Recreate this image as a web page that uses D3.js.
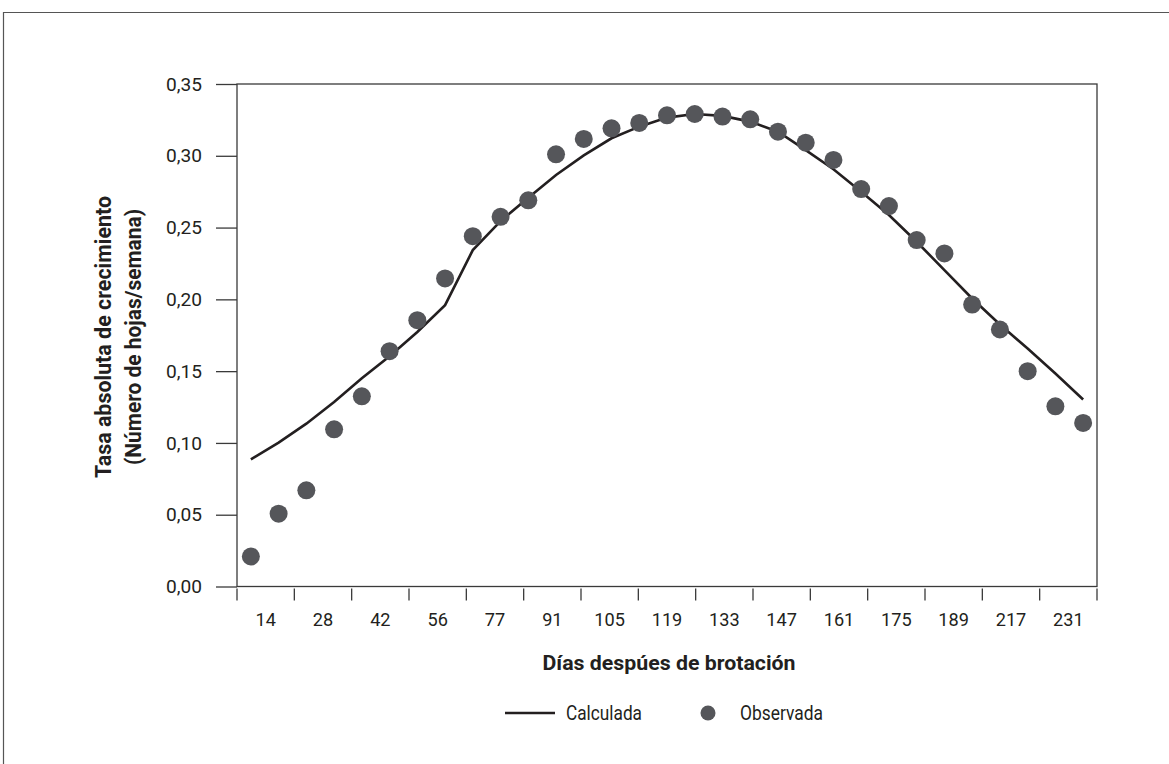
<!DOCTYPE html>
<html>
<head>
<meta charset="utf-8">
<script src="https://cdn.jsdelivr.net/npm/d3@7"></script>
<style>
  html, body { margin: 0; padding: 0; background: #fff; }
  svg { display: block; }
  text { font-family: Roboto, "Liberation Sans", sans-serif; fill: #231f20; }
</style>
</head>
<body>
<svg id="chart" width="1169" height="764"></svg>
<script>
// Data
const tickLabels = ["14","28","42","56","77","91","105","119","133","147","161","175","189","217","231"];
const yTicks = [0, 0.05, 0.10, 0.15, 0.20, 0.25, 0.30, 0.35];
const calculada = [0.0886, 0.1002, 0.1134, 0.1285, 0.1450, 0.1604, 0.1773, 0.1960, 0.2343, 0.2545,
                   0.2708, 0.2866, 0.3003, 0.3122, 0.3203, 0.3266, 0.3291, 0.3278, 0.3238, 0.3168,
                   0.3040, 0.2906, 0.2750, 0.2587, 0.2401, 0.2204, 0.2006, 0.1825, 0.1657, 0.1483, 0.1302];
const observada = [0.0209, 0.0507, 0.0670, 0.1095, 0.1325, 0.1639, 0.1855, 0.2146, 0.2440, 0.2575,
                   0.2690, 0.3010, 0.3117, 0.3191, 0.3229, 0.3282, 0.3291, 0.3273, 0.3254, 0.3168,
                   0.3091, 0.2971, 0.2768, 0.2650, 0.2413, 0.2320, 0.1964, 0.1790, 0.1500, 0.1255, 0.1139];
const legendItems = ["Calculada", "Observada"];

(function () {
const svg = d3.select("#chart");
const pL = 237, pR = 1097, pT = 84, pB = 586.5;

// outer frame
svg.append("path")
  .attr("d", `M3.5,764 V12.5 H1169`)
  .attr("fill", "none").attr("stroke", "#555").attr("stroke-width", 1.2);

const idx = d3.range(observada.length);
const x = d3.scalePoint().domain(idx).range([pL, pR]).padding(0.5);
const xBand = d3.scaleBand().domain(tickLabels).range([pL, pR]);
const y = d3.scaleLinear().domain([0, 0.35]).range([pB, pT]);

const fmt = v => d3.format(".2f")(v).replace(".", ",");

// y axis
const yAxis = svg.append("g").attr("transform", `translate(${pL},0)`)
  .call(d3.axisLeft(y).tickValues(yTicks).tickSize(21).tickPadding(14).tickFormat(fmt));
yAxis.select(".domain").remove();
yAxis.attr("font-family", null).attr("font-size", null);
yAxis.selectAll(".tick line").attr("stroke", "#3a3a3a").attr("stroke-width", 1.3);
yAxis.selectAll(".tick text").attr("font-size", 19).attr("textLength", 36).attr("lengthAdjust", "spacingAndGlyphs")
  .style("fill", "#231f20");

// x axis
const xAxis = svg.append("g").attr("transform", `translate(0,${pB})`)
  .call(d3.axisBottom(xBand).tickSize(0).tickPadding(26));
xAxis.select(".domain").remove();
xAxis.attr("font-family", null).attr("font-size", null);
xAxis.selectAll(".tick text").attr("font-size", 19)
  .attr("textLength", d => d.length * 10.2).attr("lengthAdjust", "spacingAndGlyphs")
  .style("fill", "#231f20");
// tick marks at band boundaries
const bounds = tickLabels.map(t => xBand(t)).concat([pR]);
svg.append("g").selectAll("line").data(bounds).join("line")
  .attr("x1", d => d).attr("x2", d => d)
  .attr("y1", pB + 2).attr("y2", pB + 14)
  .attr("stroke", "#3a3a3a").attr("stroke-width", 1.3);

// plot frame
svg.append("rect")
  .attr("x", pL).attr("y", pT).attr("width", pR - pL).attr("height", pB - pT)
  .attr("fill", "none").attr("stroke", "#3a3a3a").attr("stroke-width", 1.3);

// line
const line = d3.line().x((d, i) => x(i)).y(d => y(d));
svg.append("path").datum(calculada)
  .attr("d", line).attr("fill", "none")
  .attr("stroke", "#231f20").attr("stroke-width", 2.6).attr("stroke-linejoin", "miter");

// dots
svg.append("g").selectAll("circle").data(observada).join("circle")
  .attr("cx", (d, i) => x(i)).attr("cy", d => y(d)).attr("r", 9)
  .attr("fill", "#55565a");

// axis titles
svg.append("text")
  .attr("x", 669).attr("y", 670)
  .attr("text-anchor", "middle").attr("font-size", 21).attr("font-weight", "bold")
  .attr("textLength", 253).attr("lengthAdjust", "spacingAndGlyphs")
  .text("Días despúes de brotación");

const yt = svg.append("g")
  .attr("transform", `translate(111,337) rotate(-90)`);
yt.append("text").attr("x", 0).attr("y", 0)
  .attr("text-anchor", "middle").attr("font-size", 22).attr("font-weight", "bold")
  .attr("textLength", 282).attr("lengthAdjust", "spacingAndGlyphs")
  .text("Tasa absoluta de crecimiento");
yt.append("text").attr("x", 0).attr("y", 30)
  .attr("text-anchor", "middle").attr("font-size", 22).attr("font-weight", "bold")
  .attr("textLength", 256).attr("lengthAdjust", "spacingAndGlyphs")
  .text("(Número de hojas/semana)");

// legend
const lg = svg.append("g");
lg.append("line").attr("x1", 505).attr("x2", 555).attr("y1", 713).attr("y2", 713)
  .attr("stroke", "#231f20").attr("stroke-width", 2.6);
lg.append("text").attr("x", 566).attr("y", 720).attr("font-size", 20)
  .attr("textLength", 76).attr("lengthAdjust", "spacingAndGlyphs").text(legendItems[0]);
lg.append("circle").attr("cx", 708).attr("cy", 713).attr("r", 7.5).attr("fill", "#55565a");
lg.append("text").attr("x", 740).attr("y", 720).attr("font-size", 20)
  .attr("textLength", 83).attr("lengthAdjust", "spacingAndGlyphs").text(legendItems[1]);
})();
</script>
</body>
</html>
